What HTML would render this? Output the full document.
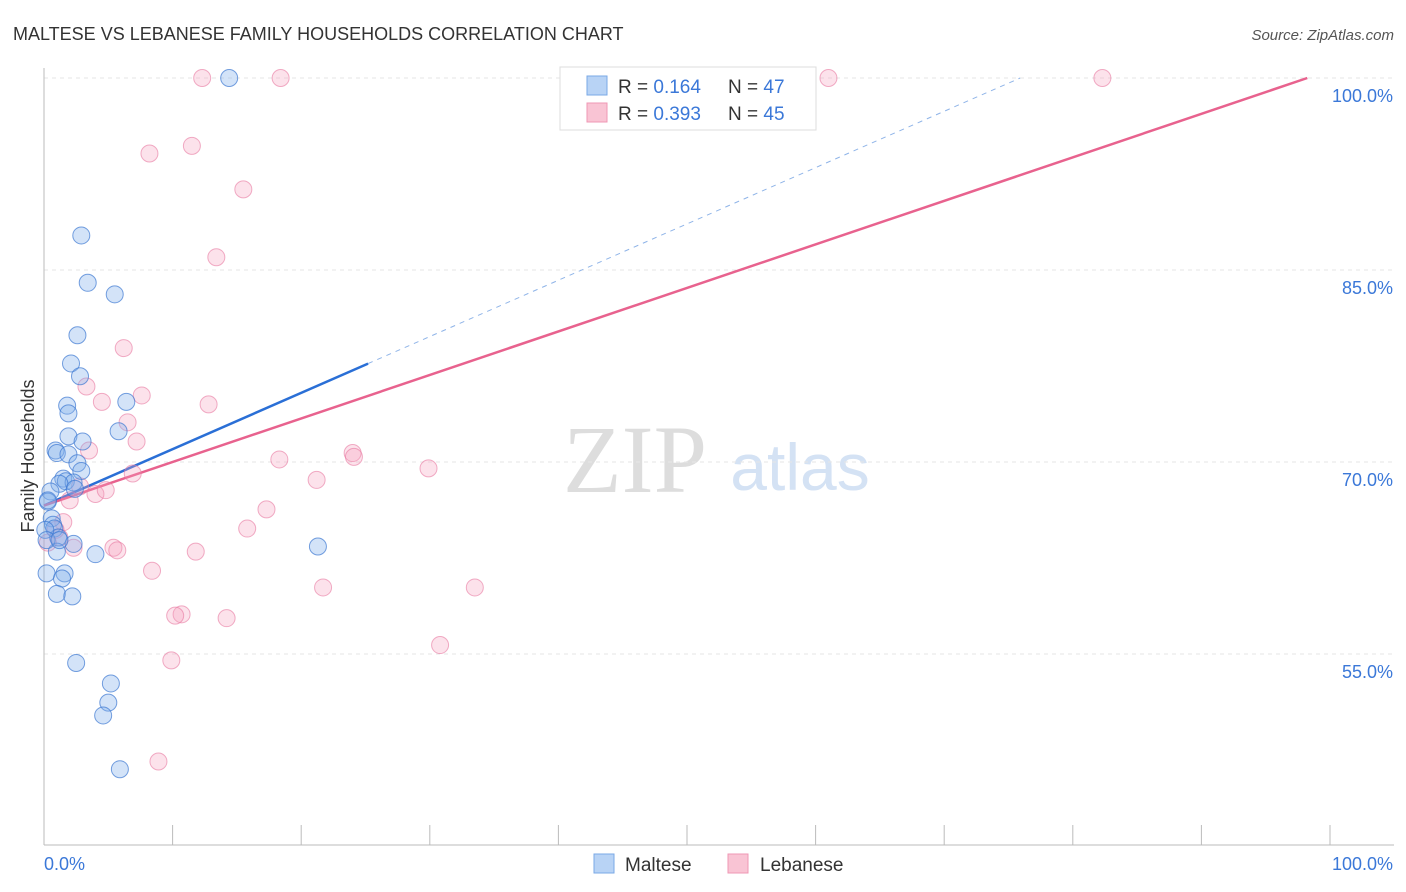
<!DOCTYPE html>
<html><head><meta charset="utf-8"><style>
body{margin:0;background:#fff;font-family:"Liberation Sans",sans-serif;}
</style></head><body>
<svg id="c" width="1406" height="892" xmlns="http://www.w3.org/2000/svg" style="display:block">
<text x="13" y="40" font-size="18" fill="#333">MALTESE VS LEBANESE FAMILY HOUSEHOLDS CORRELATION CHART</text>
<text x="1394" y="40" font-size="15" fill="#555" font-style="italic" text-anchor="end">Source: ZipAtlas.com</text>
<text x="635" y="492" font-size="96" fill="#ddd" font-family="Liberation Serif, serif" text-anchor="middle">ZIP</text>
<text x="800" y="490" font-size="66" fill="#d4e2f4" text-anchor="middle">atlas</text>
<text transform="translate(34,456) rotate(-90)" font-size="18" fill="#333" text-anchor="middle">Family Households</text>
<g id="grid"></g><g id="axes"></g><g id="lines"></g><g id="pts"></g>
<g>
<rect x="560" y="67" width="256" height="63" fill="#fff" stroke="#ddd"/>
<rect x="587" y="76" width="20" height="19" fill="#b8d3f5" stroke="#7aa8e6"/>
<rect x="587" y="103" width="20" height="19" fill="#f9c4d4" stroke="#ef97b4"/>
<text x="618" y="93" font-size="19" fill="#333">R = <tspan fill="#3b78d8">0.164</tspan></text>
<text x="728" y="93" font-size="19" fill="#333">N = <tspan fill="#3b78d8">47</tspan></text>
<text x="618" y="120" font-size="19" fill="#333">R = <tspan fill="#3b78d8">0.393</tspan></text>
<text x="728" y="120" font-size="19" fill="#333">N = <tspan fill="#3b78d8">45</tspan></text>
</g>
<g>
<rect x="594" y="854" width="20" height="19" fill="#b8d3f5" stroke="#7aa8e6"/>
<text x="625" y="871" font-size="19" fill="#333">Maltese</text>
<rect x="728" y="854" width="20" height="19" fill="#f9c4d4" stroke="#ef97b4"/>
<text x="760" y="871" font-size="19" fill="#333">Lebanese</text>
</g>
</svg>
<script>
const yTicks=[55,70,85,100];
const yTickLabels=["55.0%","70.0%","85.0%","100.0%"];
const xTickLabels=["0.0%","100.0%"];
const malteseX=[14.4,2.9,3.4,5.5,2.6,2.1,2.8,6.4,1.8,1.9,5.8,1.9,3.0,0.9,1.0,1.9,2.6,2.9,1.5,1.7,2.3,1.2,2.4,0.5,0.3,0.6,0.7,0.8,1.1,2.3,1.0,4.0,21.3,0.2,1.6,1.4,1.0,2.2,2.5,5.2,5.0,4.6,5.9,0.1,0.2,0.3,1.2];
const malteseY=[100,87.7,84.0,83.1,79.9,77.7,76.7,74.7,74.4,73.8,72.4,72.0,71.6,70.9,70.7,70.6,69.9,69.3,68.7,68.5,68.4,68.3,67.9,67.7,66.9,65.6,65.1,64.8,64.1,63.6,63.0,62.8,63.4,61.3,61.3,60.9,59.7,59.5,54.3,52.7,51.2,50.2,46.0,64.7,63.9,67.0,63.9];
const lebaneseX=[12.3,18.4,61.0,82.3,8.2,11.5,15.5,13.4,6.2,3.3,7.6,4.5,12.8,6.5,7.2,3.5,24.0,24.1,18.3,29.9,21.2,6.9,2.8,2.0,4.0,4.8,17.3,1.5,15.8,0.9,1.2,0.3,2.3,5.4,5.7,11.8,8.4,21.7,33.5,10.7,10.2,14.2,30.8,9.9,8.9];
const lebaneseY=[100,100,100,100,94.1,94.7,91.3,86.0,78.9,75.9,75.2,74.7,74.5,73.1,71.6,70.9,70.7,70.4,70.2,69.5,68.6,69.1,68.1,67.0,67.5,67.8,66.3,65.3,64.8,64.7,64.1,63.7,63.3,63.3,63.1,63.0,61.5,60.2,60.2,58.1,58.0,57.8,55.7,54.5,46.6];
const trendMaltese=[66.6,0.44];
const trendLebanese=[66.6,0.34];
const NS="http://www.w3.org/2000/svg";
const X=v=>44+v*12.86, Y=v=>78+(100-v)*12.8;
function mk(t,a,p){const e=document.createElementNS(NS,t);for(const k in a)e.setAttribute(k,a[k]);document.getElementById(p).appendChild(e);return e;}
yTicks.forEach((t,i)=>{
 const g=mk('line',{x1:44,x2:1394,y1:Y(t),y2:Y(t),stroke:'#e6e6e6','stroke-dasharray':'4,4'},'grid');
 
 
 const l=mk('text',{x:1393,y:Y(t)+24,'font-size':18,fill:'#3b78d8','text-anchor':'end'},'grid');l.textContent=yTickLabels[i];
 
 
});
const ax=mk('line',{x1:44,x2:44,y1:68,y2:845,stroke:'#bbb'},'axes');


const bx=mk('line',{x1:44,x2:1394,y1:845,y2:845,stroke:'#bbb'},'axes');


for(let i=0;i<=10;i++){const t=mk('line',{x1:X(i*10),x2:X(i*10),y1:825,y2:845,stroke:'#bbb'},'axes');
 
 }
const xl0=mk('text',{x:44,y:870,'font-size':18,fill:'#3b78d8'},'axes');xl0.textContent=xTickLabels[0];


const xl1=mk('text',{x:1393,y:870,'font-size':18,fill:'#3b78d8','text-anchor':'end'},'axes');xl1.textContent=xTickLabels[1];


function pts(xs,ys,fill,stroke,name){xs.forEach((x,i)=>{const c=mk('circle',{cx:X(x),cy:Y(ys[i]),r:8.5,fill:fill,stroke:stroke,'stroke-width':1},'pts');
 
 });}
pts(lebaneseX,lebaneseY,'rgba(245,160,188,0.3)','rgba(232,120,160,0.6)','lebanese-point');
pts(malteseX,malteseY,'rgba(130,175,235,0.35)','rgba(60,120,210,0.7)','maltese-point');
const xe=25.2;
const b1=mk('line',{x1:X(0),y1:Y(trendMaltese[0]),x2:X(xe),y2:Y(trendMaltese[0]+trendMaltese[1]*xe),stroke:'#2a6fd6','stroke-width':2.5},'lines');


const xd=(100-trendMaltese[0])/trendMaltese[1];
const b2=mk('line',{x1:X(xe),y1:Y(trendMaltese[0]+trendMaltese[1]*xe),x2:X(xd),y2:Y(100),stroke:'#8fb4e8','stroke-width':1,'stroke-dasharray':'5,5'},'lines');


const xp=(100-trendLebanese[0])/trendLebanese[1];
const p1=mk('line',{x1:X(0),y1:Y(trendLebanese[0]),x2:X(xp),y2:Y(100),stroke:'#e8628e','stroke-width':2.5},'lines');


</script>
</body></html>
